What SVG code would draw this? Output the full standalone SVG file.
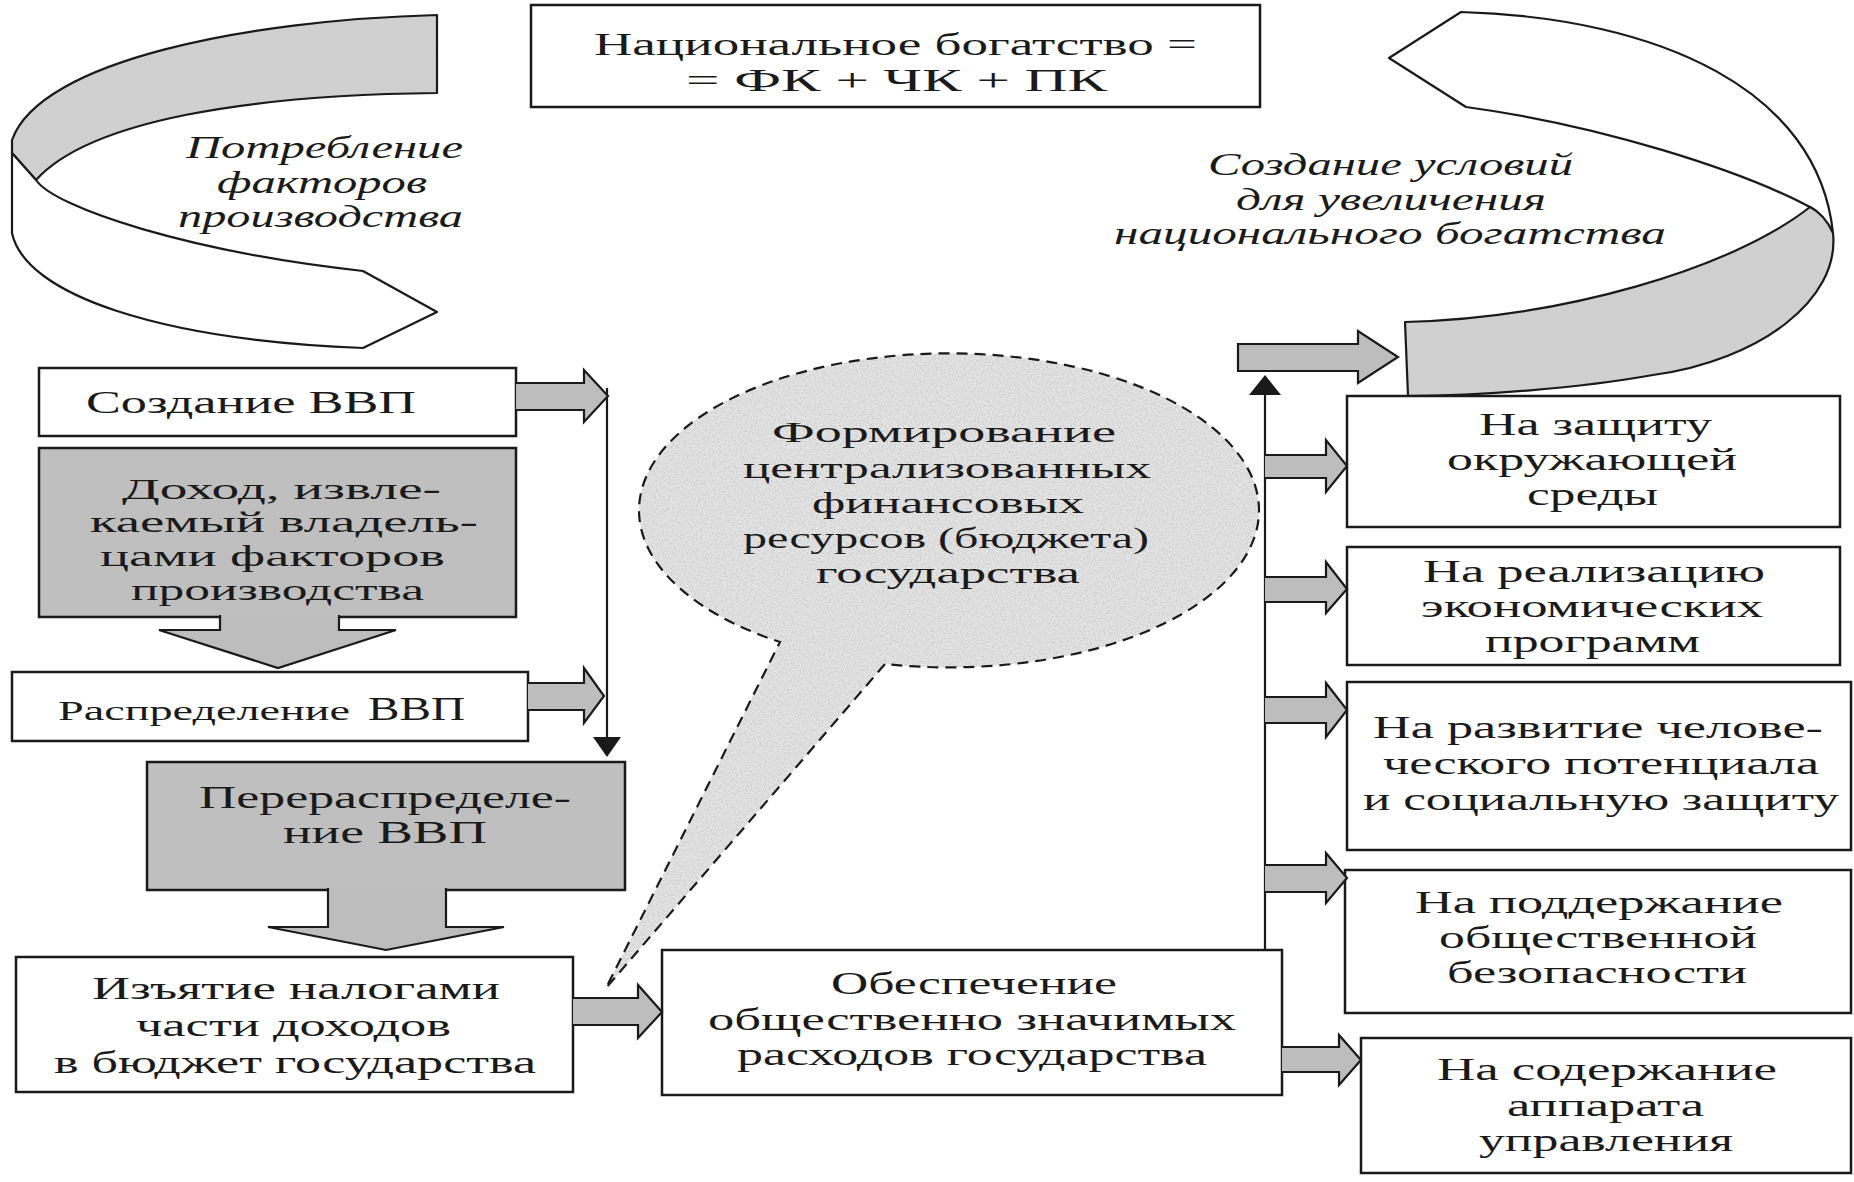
<svg xmlns="http://www.w3.org/2000/svg" width="1854" height="1182" viewBox="0 0 1854 1182">
<style>
.bg{fill:#ffffff}
.box{fill:#ffffff;stroke:#1a1a1a;stroke-width:2.5}
.gbox{fill:#bfbfbf;stroke:#1a1a1a;stroke-width:2.5}
.rib{stroke:#1a1a1a;stroke-width:2.2;stroke-linejoin:round}
.ribw{fill:#ffffff}
.ribg{fill:#d0d0d0}
.arr{fill:#bdbdbd;stroke:#1a1a1a;stroke-width:2.2;stroke-linejoin:miter}
.ln{stroke:#1a1a1a;stroke-width:2.2;fill:none}
.head{fill:#1a1a1a}
.bubble{fill:#e4e4e4;stroke:none}
.bubble-line{fill:none;stroke:#1a1a1a;stroke-width:2.2;stroke-dasharray:11 7}
.t{font-family:"Liberation Serif","Times New Roman",serif;font-size:30px;fill:#1a1a1a}
.i{font-style:italic;font-size:31px}
</style>
<defs>
<filter id="speck" x="-2%" y="-2%" width="104%" height="104%">
<feTurbulence type="fractalNoise" baseFrequency="0.55" numOctaves="2" seed="7" result="n"/>
<feColorMatrix in="n" type="matrix" values="0 0 0 0 0.62  0 0 0 0 0.62  0 0 0 0 0.62  3 0 0 0 -1.25" result="dots"/>
<feComposite in="dots" in2="SourceGraphic" operator="in" result="clipped"/>
<feMerge><feMergeNode in="SourceGraphic"/><feMergeNode in="clipped"/></feMerge>
</filter>
</defs>
<rect class="bg" x="0" y="0" width="1854" height="1182"/>

<g id="ribbon-left">
<path class="rib ribg" d="M437,15 C250,20 40,60 12,140 L12,153 L36,180 C90,120 250,95 437,93 Z"/>
<path class="rib ribw" d="M12,153 L12,233 C25,295 160,340 363,348 L437,312 L363,271 C190,252 55,208 36,180 Z"/>
<text class="t i" x="186" y="158" textLength="277" lengthAdjust="spacingAndGlyphs">Потребление</text>
<text class="t i" x="217" y="193" textLength="210" lengthAdjust="spacingAndGlyphs">факторов</text>
<text class="t i" x="178" y="227" textLength="285" lengthAdjust="spacingAndGlyphs">производства</text>
</g>

<g id="ribbon-right">
<path class="rib ribw" d="M1461,12 C1660,18 1818,90 1833,233 C1826,222 1820,212 1810,207 C1740,170 1600,125 1466,107 L1389,58 Z"/>
<path class="rib ribg" d="M1405,322 C1560,318 1730,270 1810,207 C1820,212 1828,222 1833,233 C1840,300 1760,360 1653,375 C1580,388 1480,396 1408,396 Z"/>
<text class="t i" x="1208" y="175" textLength="365" lengthAdjust="spacingAndGlyphs">Создание условий</text>
<text class="t i" x="1236" y="210" textLength="310" lengthAdjust="spacingAndGlyphs">для увеличения</text>
<text class="t i" x="1114" y="244" textLength="552" lengthAdjust="spacingAndGlyphs">национального богатства</text>
</g>

<g id="node-wealth">
<rect class="box" x="531" y="5" width="729" height="102"/>
<text class="t" x="594" y="55" style="font-size:31px" textLength="603" lengthAdjust="spacingAndGlyphs">Национальное богатство =</text>
<text class="t" x="686" y="91" style="font-size:32px" textLength="421" lengthAdjust="spacingAndGlyphs">= ФК + ЧК + ПК</text>
</g>

<g id="node-bubble">
<path class="bubble" filter="url(#speck)" d="M885,664 L606,988 L780,642 A310 157 0 1 1 885,664 Z"/>
<path class="bubble-line" d="M885,664 L606,988 L780,642 A310 157 0 1 1 885,664"/>
<text class="t" x="772" y="442" textLength="344" lengthAdjust="spacingAndGlyphs">Формирование</text>
<text class="t" x="743" y="478" textLength="408" lengthAdjust="spacingAndGlyphs">централизованных</text>
<text class="t" x="812" y="513" textLength="272" lengthAdjust="spacingAndGlyphs">финансовых</text>
<text class="t" x="743" y="548" textLength="406" lengthAdjust="spacingAndGlyphs">ресурсов (бюджета)</text>
<text class="t" x="816" y="583" textLength="264" lengthAdjust="spacingAndGlyphs">государства</text>
</g>

<g id="node-create">
<rect class="box" x="39" y="368" width="477" height="68"/>
<text class="t" x="86" y="413" style="font-size:32px" textLength="330" lengthAdjust="spacingAndGlyphs">Создание ВВП</text>
</g>

<g id="node-income">
<rect class="gbox" x="39" y="448" width="477" height="169"/>
<text class="t" x="122" y="499" textLength="319" lengthAdjust="spacingAndGlyphs">Доход, извле-</text>
<text class="t" x="90" y="532" textLength="388" lengthAdjust="spacingAndGlyphs">каемый владель-</text>
<text class="t" x="100" y="566" textLength="345" lengthAdjust="spacingAndGlyphs">цами факторов</text>
<text class="t" x="131" y="600" textLength="293" lengthAdjust="spacingAndGlyphs">производства</text>
</g>

<g id="node-distribution">
<rect class="box" x="12" y="672" width="516" height="69"/>
<text class="t" x="58" y="720" style="font-size:27px" textLength="292" lengthAdjust="spacingAndGlyphs">Распределение</text>
<text class="t" x="368" y="720" style="font-size:33px" textLength="97" lengthAdjust="spacingAndGlyphs">ВВП</text>
</g>

<g id="node-redistribution">
<rect class="gbox" x="147" y="762" width="478" height="128"/>
<text class="t" x="199" y="808" style="font-size:31px" textLength="372" lengthAdjust="spacingAndGlyphs">Перераспределе-</text>
<text class="t" x="283" y="843" style="font-size:31px" textLength="204" lengthAdjust="spacingAndGlyphs">ние ВВП</text>
</g>

<g id="node-taxes">
<rect class="box" x="16" y="957" width="557" height="135"/>
<text class="t" x="92" y="999" style="font-size:32px" textLength="408" lengthAdjust="spacingAndGlyphs">Изъятие налогами</text>
<text class="t" x="136" y="1036" style="font-size:32px" textLength="315" lengthAdjust="spacingAndGlyphs">части доходов</text>
<text class="t" x="54" y="1073" style="font-size:32px" textLength="482" lengthAdjust="spacingAndGlyphs">в бюджет государства</text>
</g>

<g id="node-expenses">
<rect class="box" x="662" y="950" width="620" height="145"/>
<text class="t" x="831" y="994" style="font-size:31px" textLength="286" lengthAdjust="spacingAndGlyphs">Обеспечение</text>
<text class="t" x="708" y="1030" style="font-size:31px" textLength="528" lengthAdjust="spacingAndGlyphs">общественно значимых</text>
<text class="t" x="737" y="1065" style="font-size:31px" textLength="470" lengthAdjust="spacingAndGlyphs">расходов государства</text>
</g>

<g id="node-environment">
<rect class="box" x="1347" y="396" width="493" height="131"/>
<text class="t" x="1479" y="435" style="font-size:31px" textLength="233" lengthAdjust="spacingAndGlyphs">На защиту</text>
<text class="t" x="1447" y="470" style="font-size:31px" textLength="290" lengthAdjust="spacingAndGlyphs">окружающей</text>
<text class="t" x="1527" y="505" style="font-size:31px" textLength="131" lengthAdjust="spacingAndGlyphs">среды</text>
</g>

<g id="node-economic">
<rect class="box" x="1347" y="547" width="493" height="118"/>
<text class="t" x="1423" y="582" style="font-size:31px" textLength="342" lengthAdjust="spacingAndGlyphs">На реализацию</text>
<text class="t" x="1421" y="617" style="font-size:31px" textLength="342" lengthAdjust="spacingAndGlyphs">экономических</text>
<text class="t" x="1485" y="652" style="font-size:31px" textLength="215" lengthAdjust="spacingAndGlyphs">программ</text>
</g>

<g id="node-human">
<rect class="box" x="1347" y="682" width="504" height="168"/>
<text class="t" x="1373" y="738" style="font-size:31px" textLength="450" lengthAdjust="spacingAndGlyphs">На развитие челове-</text>
<text class="t" x="1383" y="774" style="font-size:31px" textLength="436" lengthAdjust="spacingAndGlyphs">ческого потенциала</text>
<text class="t" x="1363" y="810" style="font-size:31px" textLength="476" lengthAdjust="spacingAndGlyphs">и социальную защиту</text>
</g>

<g id="node-security">
<rect class="box" x="1345" y="870" width="506" height="143"/>
<text class="t" x="1415" y="913" style="font-size:31px" textLength="368" lengthAdjust="spacingAndGlyphs">На поддержание</text>
<text class="t" x="1439" y="948" style="font-size:31px" textLength="318" lengthAdjust="spacingAndGlyphs">общественной</text>
<text class="t" x="1447" y="983" style="font-size:31px" textLength="300" lengthAdjust="spacingAndGlyphs">безопасности</text>
</g>

<g id="node-administration">
<rect class="box" x="1361" y="1038" width="490" height="135"/>
<text class="t" x="1437" y="1080" style="font-size:31px" textLength="340" lengthAdjust="spacingAndGlyphs">На содержание</text>
<text class="t" x="1507" y="1116" style="font-size:31px" textLength="197" lengthAdjust="spacingAndGlyphs">аппарата</text>
<text class="t" x="1479" y="1151" style="font-size:31px" textLength="254" lengthAdjust="spacingAndGlyphs">управления</text>
</g>

<g id="connectors">
<line class="ln" x1="607" y1="388" x2="607" y2="740"/>
<polygon class="head" points="593,737 621,737 607,757"/>
<line class="ln" x1="1265" y1="950" x2="1265" y2="393"/>
<polygon class="head" points="1249,395 1281,395 1265,375"/>
<path class="arr" d="M516,383 L584,383 L584,370 L608,396 L584,422 L584,410 L516,410"/>
<path class="arr" d="M528,683 L584,683 L584,668 L604,696 L584,723 L584,710 L528,710"/>
<path class="arr" d="M573,998 L638,998 L638,985 L662,1012 L638,1038 L638,1025 L573,1025"/>
<path class="arr" d="M220,615 L220,630 L159,630 L278,668 L396,630 L339,630 L339,615"/>
<path class="arr" d="M328,888 L328,927 L268,927 L386,950 L504,927 L446,927 L446,888"/>
<path class="arr" d="M1238,344 L1358,344 L1358,331 L1398,357 L1358,383 L1358,371 L1238,371 Z"/>
<path class="arr" d="M1265,455 L1326,455 L1326,440 L1347,466 L1326,492 L1326,478 L1265,478"/>
<path class="arr" d="M1265,577 L1326,577 L1326,562 L1347,589 L1326,613 L1326,602 L1265,602"/>
<path class="arr" d="M1265,697 L1326,697 L1326,683 L1347,710 L1326,737 L1326,723 L1265,723"/>
<path class="arr" d="M1265,865 L1326,865 L1326,853 L1347,878 L1326,903 L1326,892 L1265,892"/>
<path class="arr" d="M1282,1047 L1339,1047 L1339,1035 L1361,1060 L1339,1085 L1339,1072 L1282,1072"/>
</g>
</svg>
